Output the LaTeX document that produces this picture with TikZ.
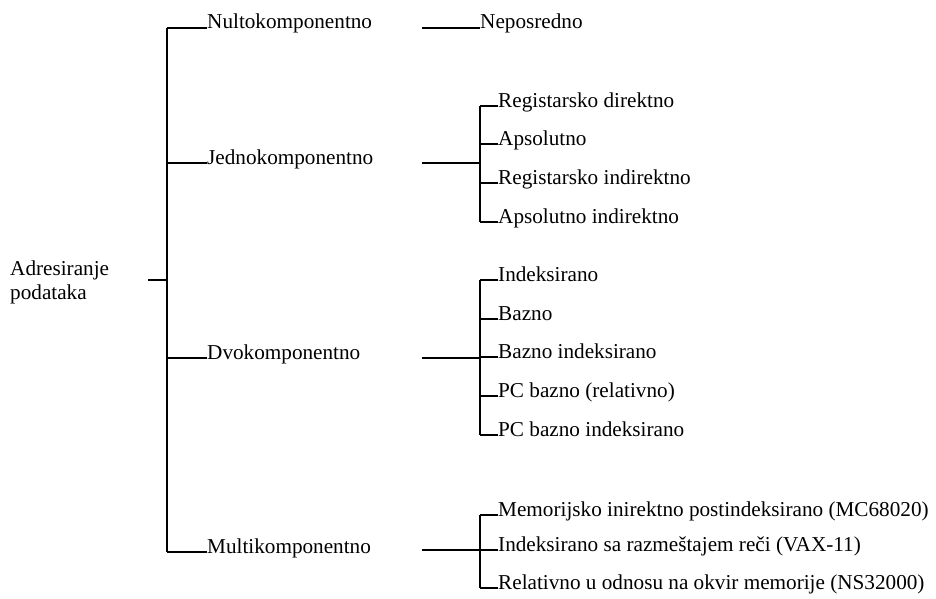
\documentclass[tikz,border=0pt]{standalone}
\usepackage{fontspec}
\setmainfont{Liberation Serif}
\usetikzlibrary{positioning}

\tikzset{
	lbl/.style={anchor=base west, inner sep=0pt, font=\fontsize{21.2}{24}\selectfont},
	br/.style={line width=2.1pt},
}

\begin{document}
\begin{tikzpicture}[x=1pt, y=-1pt]
	\useasboundingbox (0,0) rectangle (936,599);
	
	%Root
	\node[lbl, anchor=north west, align=left] (root) at (10,261) {Adresiranje\\podataka};
	\coordinate (r0) at (148,280);
	\coordinate (r1) at (167,280);
	\draw[br] (r0) -- (r1);
	
	%Main bracket
	\coordinate (m1) at (167,28);
	\coordinate (m2) at (167,163);
	\coordinate (m3) at (167,358);
	\coordinate (m4) at (167,552);
	\draw[br] (m1) -- (m4);
	
	\node[lbl] (nulto) at (207,29) {Nultokomponentno};
	\node[lbl] (jedno) at (207,164) {Jednokomponentno};
	\node[lbl] (dvo) at (207,359) {Dvokomponentno};
	\node[lbl] (multi) at (207,553) {Multikomponentno};
	\draw[br] (m1) -- (m1 -| nulto.west);
	\draw[br] (m2) -- (m2 -| jedno.west);
	\draw[br] (m3) -- (m3 -| dvo.west);
	\draw[br] (m4) -- (m4 -| multi.west);
	
	%Nultokomponentno
	\coordinate (a0) at (422,28);
	\node[lbl] (neposr) at (480,29) {Neposredno};
	\draw[br] (a0) -- (a0 -| neposr.west);
	
	%Jednokomponentno
	\coordinate (b0) at (422,163);
	\coordinate (b1) at (480,163);
	\draw[br] (b0) -- (b1);
	\node[lbl] (b-1) at (498,107) {Registarsko direktno};
	\node[lbl] (b-2) at (498,145) {Apsolutno};
	\node[lbl] (b-3) at (498,184) {Registarsko indirektno};
	\node[lbl] (b-4) at (498,223) {Apsolutno indirektno};
	\draw[br] (480,106) -- (480,222);
	\foreach \i/\y in {1/106,2/144,3/183,4/222}
		\draw[br] (480,\y) -- (b-\i.west |- 0,\y);
	
	%Dvokomponentno
	\coordinate (c0) at (422,358);
	\coordinate (c1) at (480,358);
	\draw[br] (c0) -- (c1);
	\node[lbl] (c-1) at (498,281) {Indeksirano};
	\node[lbl] (c-2) at (498,320) {Bazno};
	\node[lbl] (c-3) at (498,358) {Bazno indeksirano};
	\node[lbl] (c-4) at (498,397) {PC bazno (relativno)};
	\node[lbl] (c-5) at (498,436) {PC bazno indeksirano};
	\draw[br] (480,280) -- (480,435);
	\foreach \i/\y in {1/280,2/319,3/357,4/396,5/435}
		\draw[br] (480,\y) -- (c-\i.west |- 0,\y);
	
	%Multikomponentno
	\coordinate (d0) at (422,550);
	\coordinate (d1) at (480,550);
	\draw[br] (d0) -- (d1);
	\node[lbl] (d-1) at (498,516) {Memorijsko inirektno postindeksirano (MC68020)};
	\node[lbl] (d-2) at (498,551) {Indeksirano sa razmeštajem reči (VAX-11)};
	\node[lbl] (d-3) at (498,589) {Relativno u odnosu na okvir memorije (NS32000)};
	\draw[br] (480,515) -- (480,588);
	\foreach \i/\y in {1/515,2/550,3/588}
		\draw[br] (480,\y) -- (d-\i.west |- 0,\y);
\end{tikzpicture}
\end{document}
